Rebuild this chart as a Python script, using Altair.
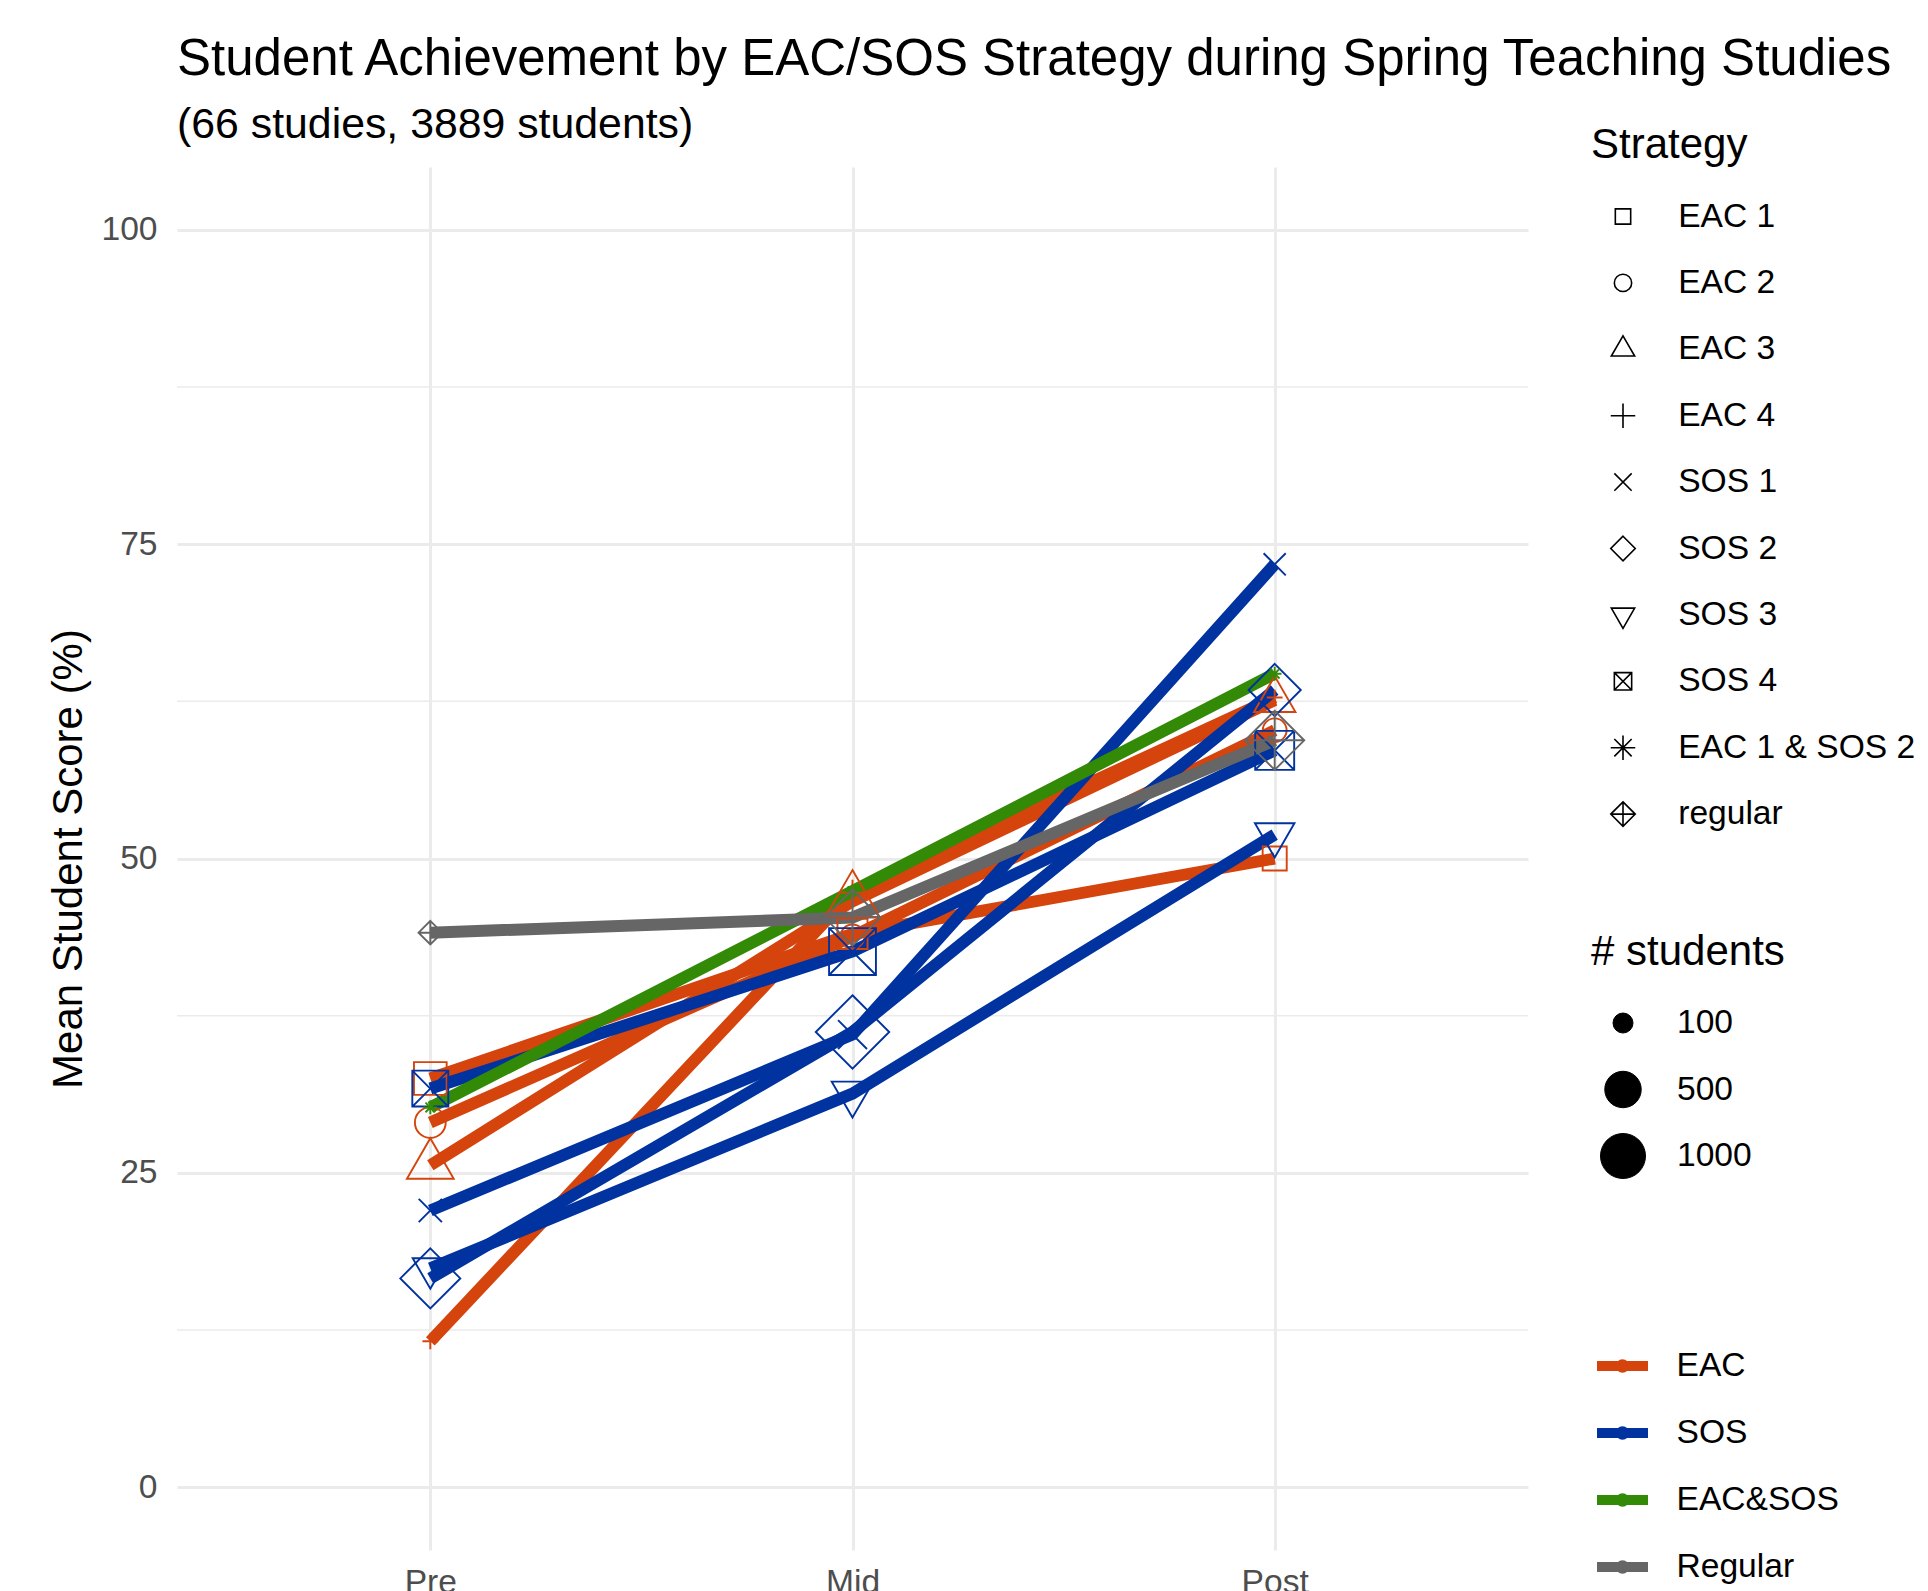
import altair as alt
import pandas as pd

# ---- data ----
strategies = ["EAC 1", "EAC 2", "EAC 3", "EAC 4", "SOS 1", "SOS 2", "SOS 3", "SOS 4",
              "EAC 1 & SOS 2", "regular"]
groups = ["EAC", "EAC", "EAC", "EAC", "SOS", "SOS", "SOS", "SOS", "EAC&SOS", "Regular"]
times = ["Pre", "Mid", "Post"]
score_pre = [32.5, 29.0, 25.6, 11.6, 22.0, 16.6, 17.4, 31.7, 30.2, 44.1]
score_mid = [44.0, 43.8, 46.6, 47.3, 36.0, 36.2, 31.3, 42.6, 47.4, 45.3]
score_post = [50.0, 60.2, 62.6, 62.8, 73.4, 63.4, 51.9, 58.6, 64.7, 59.4]
n_pre = [520, 300, 430, 40, 140, 820, 190, 480, 35, 70]
n_mid = [400, 150, 680, 80, 250, 1650, 300, 1150, 35, 650]
n_post = [210, 150, 300, 40, 125, 520, 260, 620, 35, 780]

group_names = ["EAC", "SOS", "EAC&SOS", "Regular"]
group_colors = ["#D4440C", "#0033A0", "#338A06", "#666666"]
size_legend_values = [100, 500, 1000]
y_ticks = [0, 25, 50, 75, 100]
y_minor = [12.5, 37.5, 62.5, 87.5]

shape_paths = [
    "M-0.886,-0.886H0.886V0.886H-0.886Z",                       # square
    "circle",                                                    # circle
    "M0,-1.555L1.347,0.778L-1.347,0.778Z",                       # triangle up
    "M-1.414,0H1.414M0,-1.414V1.414",                            # plus
    "M-1,-1L1,1M-1,1L1,-1",                                      # cross
    "M0,-1.414L1.414,0L0,1.414L-1.414,0Z",                       # diamond
    "M0,1.555L1.347,-0.778L-1.347,-0.778Z",                      # triangle down
    "M-1,-1H1V1H-1ZM-1,-1L1,1M-1,1L1,-1",                        # square cross
    "M-1.414,0H1.414M0,-1.414V1.414M-1,-1L1,1M-1,1L1,-1",        # asterisk
    "M0,-1.414L1.414,0L0,1.414L-1.414,0ZM-1.414,0H1.414M0,-1.414V1.414",  # diamond plus
]

rows = []
for i, s in enumerate(strategies):
    for t, sc, n in zip(times, [score_pre[i], score_mid[i], score_post[i]],
                        [n_pre[i], n_mid[i], n_post[i]]):
        rows.append({"strategy": s, "group": groups[i], "time": t, "score": sc, "n": n})
df = pd.DataFrame(rows)
minor_df = pd.DataFrame({"score": y_minor})

FONT = "Liberation Sans"

yscale = alt.Scale(domain=[-5, 105], nice=False, zero=False)
yaxis = alt.Axis(values=y_ticks, title="Mean Student Score (%)", grid=True,
                 gridColor="#EBEBEB", gridWidth=3, ticks=False, domain=False,
                 labelFontSize=33.6, labelColor="#4D4D4D", labelPadding=20, labelFont=FONT,
                 titleFontSize=42, titleFont=FONT, titleFontWeight="normal", titleColor="black",
                 titleX=-109, titleY=691.5, titleAngle=270, titleBaseline="middle",
                 titleAlign="center")
xenc = alt.X("time:N", sort=times, title=None,
             scale=alt.Scale(type="point", padding=0.6, domain=times),
             axis=alt.Axis(labelAngle=0, grid=True, gridColor="#EBEBEB", gridWidth=3,
                           ticks=False, domain=False, labelFontSize=33.6, labelColor="#4D4D4D",
                           labelPadding=15, labelFont=FONT))
yenc = alt.Y("score:Q", scale=yscale, axis=yaxis)

color_legend = alt.Legend(title=None, orient="none", legendX=1414, legendY=1181,
                          symbolType="M-2,0H2M0.14,0A0.14,0.14 0 1,1 -0.14,0A0.14,0.14 0 1,1 0.14,0",
                          symbolSize=650, symbolStrokeWidth=10,
                          symbolFillColor="transparent",
                          labelFontSize=33.6, labelColor="black", labelFont=FONT, labelLimit=400,
                          symbolOffset=13.5, labelOffset=36, rowPadding=23, padding=0)

minor = alt.Chart(minor_df).mark_rule(color="#EBEBEB", strokeWidth=1.5).encode(y=yenc)

lines = alt.Chart(df).mark_line(strokeWidth=12, strokeCap="butt").encode(
    x=xenc, y=yenc,
    color=alt.Color("group:N", scale=alt.Scale(domain=group_names, range=group_colors),
                    legend=color_legend),
    detail="strategy:N")

points = alt.Chart(df).mark_point(filled=True, strokeWidth=1.9, opacity=1).encode(
    x=xenc, y=yenc,
    stroke=alt.Stroke("group:N", scale=alt.Scale(domain=group_names, range=group_colors),
                      legend=None),
    fill=alt.Fill("group:N", scale=alt.Scale(domain=group_names,
                                             range=["transparent"] * len(group_names)),
                  legend=None),
    shape=alt.Shape("strategy:N", scale=alt.Scale(domain=strategies, range=shape_paths),
                    legend=alt.Legend(title="Strategy", orient="none", legendX=1414, legendY=-42,
                                      titleFontSize=42, titleFont=FONT, titleFontWeight="normal",
                                      titleColor="black", titlePadding=32.7, titleLimit=400,
                                      labelFontSize=33.6, labelColor="black", labelFont=FONT,
                                      labelLimit=400,
                                      symbolSize=300, symbolOffset=15.2, labelOffset=38.4,
                                      symbolStrokeColor="black", symbolFillColor="transparent",
                                      symbolStrokeWidth=1.6,
                                      rowPadding=31.4, padding=0)),
    size=alt.Size("n:Q", scale=alt.Scale(type="sqrt", domain=[100, 1000], range=[400, 2025],
                                         zero=False),
                  legend=alt.Legend(title="# students", values=size_legend_values, format="d",
                                    orient="none", legendX=1414, legendY=765,
                                    titleFontSize=42, titleFont=FONT, titleFontWeight="normal",
                                    titleColor="black", titlePadding=25.5, titleLimit=400,
                                    labelFontSize=33.6, labelColor="black", labelFont=FONT,
                                    labelLimit=400,
                                    clipHeight=47, symbolOffset=9, labelOffset=31,
                                    rowPadding=19.5, padding=0, symbolType="circle",
                                    symbolStrokeColor="black", symbolFillColor="black",
                                    symbolStrokeWidth=1)),
)

chart = alt.layer(minor, lines, points).properties(
    width=1351, height=1383,
    title=alt.TitleParams(text="Student Achievement by EAC/SOS Strategy during Spring Teaching Studies",
                          subtitle="(66 studies, 3889 students)", anchor="start", frame="group",
                          fontSize=51, subtitleFontSize=42.8, font=FONT, subtitleFont=FONT,
                          fontWeight="normal", color="black", subtitleColor="black",
                          offset=20, subtitlePadding=18, dy=43),
    autosize=alt.AutoSizeParams(type="none"),
    padding={"left": 169, "top": 159, "right": 392, "bottom": 41},
).configure(background="white").configure_view(stroke=None)

chart.save("out.html", embed_options={"renderer": "svg", "actions": False})
